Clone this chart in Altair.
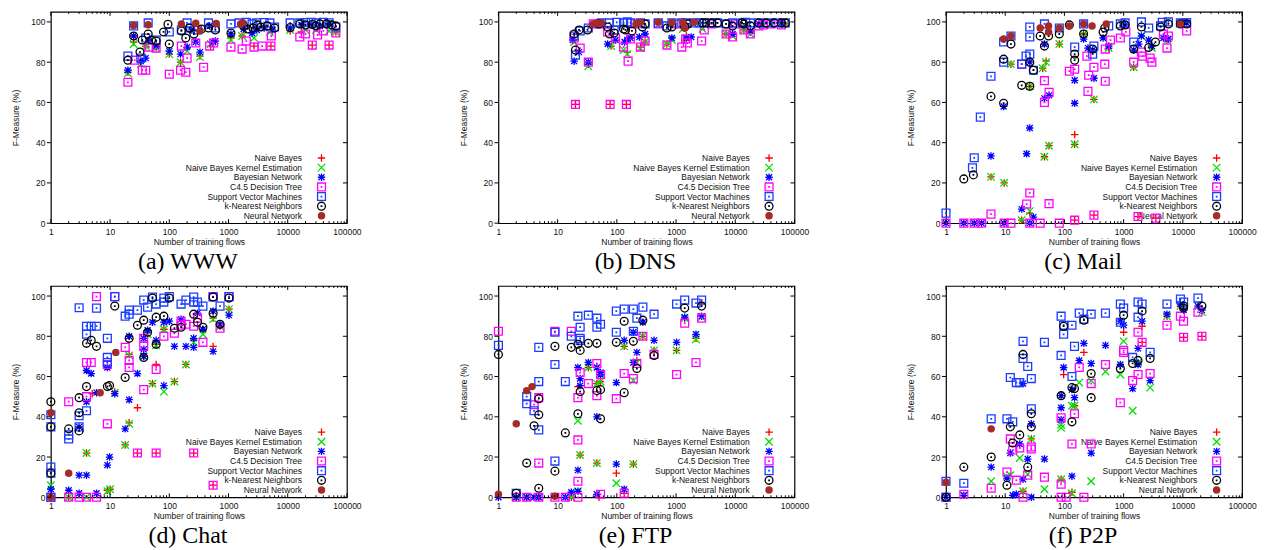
import altair as alt
import pandas as pd

SERIES = ["Naive Bayes", "Naive Bayes Kernel Estimation", "Bayesian Network",
          "C4.5 Decision Tree", "Support Vector Machines", "k-Nearest Neighbors",
          "Neural Network"]
COLORS = ["#ff0000", "#00e000", "#0000ff", "#ff00ff", "#1a3cff", "#000000", "#a52a2a"]
PLUS = "M-1,0L1,0M0,-1L0,1"
CROSS = "M-1,-1L1,1M-1,1L1,-1"
STAR = "M-1,0L1,0M0,-1L0,1M-0.8,-0.8L0.8,0.8M-0.8,0.8L0.8,-0.8"
SQDOT = "M-1,-1L1,-1L1,1L-1,1Z M-0.06,-0.06L0.06,-0.06L0.06,0.06L-0.06,0.06Z"
CIRCDOT = "M-1,0A1,1,0,1,0,1,0A1,1,0,1,0,-1,0Z M-0.06,-0.06L0.06,-0.06L0.06,0.06L-0.06,0.06Z"
SHAPES = [PLUS, CROSS, STAR, SQDOT, SQDOT, CIRCDOT, "circle"]
SIZES = [56, 56, 56, 62, 62, 62, 56]
FILLED = [False, False, False, False, False, False, True]
CAPTIONS = ["(a) WWW", "(b) DNS", "(c) Mail", "(d) Chat", "(e) FTP", "(f) P2P"]
X_LABELS = [1, 10, 100, 1000, 10000, 100000]
Y_LABELS = [0, 20, 40, 60, 80, 100]

# ---------------- (a) WWW ----------------
WWW_NB = [(20,75),(25,90),(33,80),(40,88),(60,87.5),(100,84),(155,80),(200,87),(330,83),(500,88),(1100,92),(1700,93),(2700,88),(5200,88),(11000,95.5),(17000,95),(26000,88.5),(50000,88.5),(65000,95)]
WWW_NBK = [(20,74.5),(25,89),(33,79),(40,88),(60,87),(100,84),(155,80),(200,85.5),(330,82.5),(500,89),(1100,91),(1700,93),(2700,92),(5000,95),(11000,96),(20000,96),(30000,96),(50000,95.5),(65000,95)]
WWW_BN = [(20,76),(25,93),(33,80.5),(40,82),(45,90.5),(60,88),(100,85.5),(155,84),(200,87.5),(240,96),(280,90),(330,85),(480,98),(550,90),(600,90.5),(1100,94),(1800,96.5),(2500,94.5),(3000,96),(4000,97),(5500,96),(11000,97),(17000,98.5),(25000,98.5),(35000,98),(50000,99)]
WWW_C45 = [(20,70),(26,81),(35,76),(40,76),(45,87.5),(60,87),(100,74),(155,76),(160,88),(190,75),(200,82),(280,89.5),(380,77.5),(480,88),(560,89.5),(1100,87.5),(1700,86.5),(2000,90.5),(2700,87.5),(3700,88),(5200,88),(5300,93),(16000,92.5),(20000,94),(26000,88.5),(32000,93.5),(40000,95.5),(50000,88.5),(65000,94.5)]
WWW_SVM = [(20,83),(25,98),(33,82),(40,92),(44,99.5),(60,91),(100,95),(160,96),(200,99.5),(230,97),(300,96),(460,99.5),(600,97),(1100,99),(1500,99.5),(2000,99.8),(2500,99),(3000,99.6),(4000,99.7),(5000,99.5),(6000,97.5),(11000,99.5),(16000,99.5),(20000,99.7),(25000,99.8),(30000,99.5),(40000,99.8),(50000,99.6),(65000,97.5)]
WWW_KNN = [(20,81),(25,93),(32,85),(35,91),(44,94),(50,91),(60,90.5),(80,95),(95,98.8),(100,89),(160,95.5),(190,92),(220,97),(260,94),(350,96.5),(460,97),(600,96),(1100,94.5),(1800,98),(2100,96.5),(2600,97),(3100,98.5),(3500,97.5),(4500,98),(6000,97),(11000,97.2),(16000,99),(20000,98.5),(26000,98.7),(30000,98),(35000,99),(45000,99),(55000,98.5),(65000,98)]
WWW_NN = [(25,98.2),(44,98.6),(160,99),(280,99.3),(330,95.6),(620,99.2),(1600,99),(1750,99.6)]

# ---------------- (b) DNS ----------------
DNS_NB = [(20,59),(33,79),(77,59),(80,88),(145,59),(150,85),(250,87.5),(300,90),(700,89),(1400,91),(1500,93),(7000,94),(9000,94),(14000,96),(18000,95),(30000,99),(70000,99)]
DNS_NBK = [(19,90),(33,78),(80,88),(130,86),(150,84),(250,87),(300,90),(700,89),(850,91),(1300,96.5),(1500,92),(2800,96.5),(7000,94),(9000,93),(14000,96),(18000,94),(30000,98.5),(70000,99)]
DNS_BN = [(18,91),(19,80.5),(23,85),(33,80),(70,89),(95,91),(135,90),(150,91),(170,92),(240,92.5),(300,94),(850,92),(1500,92),(1800,92.5),(9000,94),(18000,95.5),(25000,99),(60000,99.5)]
DNS_C45 = [(19,92),(20,59),(24,87),(33,80),(40,99),(50,99),(70,95),(77,59),(95,92),(130,87.5),(145,59),(155,80.5),(170,91.5),(200,99),(250,87.5),(300,90.5),(500,99),(700,88.5),(1000,99),(1250,87.5),(1450,91.5),(1550,89.5),(2700,90.5),(3000,96),(4000,99),(7000,94),(9000,92.5),(10000,99),(14000,96),(18000,94),(25000,98),(30000,98.5),(40000,99),(60000,98.5)]
DNS_SVM = [(19,93),(20,83.5),(24,95.5),(33,97),(55,99.5),(75,99.5),(90,96),(100,99.8),(130,99.5),(150,100),(170,99.5),(250,99.5),(300,99),(500,99.5),(700,98),(850,99.5),(1250,99.5),(1500,99.5),(2000,99.5),(2500,99.5),(3000,99.5),(4000,99.5),(5000,99.5),(7000,99),(9000,99.5),(13000,99.5),(15000,99.8),(18000,99.5),(25000,99.5),(35000,99.5),(50000,99.5),(70000,99.5)]
DNS_KNN = [(19,94),(20,86),(23,96),(32,96),(50,99),(70,97.5),(75,94),(90,94.5),(130,96.5),(140,96),(180,95.5),(270,97.5),(300,99),(700,97),(850,97.5),(1400,97.5),(1600,99),(2800,99.5),(3200,99.5),(4000,99.5),(5000,99.5),(7000,99),(9000,98),(13000,99.5),(14000,99),(18000,98),(25000,99.5),(33000,99.5),(45000,99.5),(60000,99.5),(70000,99.5)]
DNS_NN = [(40,99),(47,99.5),(55,99.5),(210,99),(230,99.5),(250,99.8),(500,99.8),(850,99.7),(1300,99.8),(1400,97),(2000,99.8)]

# ---------------- (c) Mail ----------------
MAIL_NB = [(5.75,23),(9.6,20),(12.5,79),(19,1.5),(26,68),(26,5),(43,77),(46,33),(49,80.5),(55,38.5),(82,89),(149,44),(149,39.2),(149,1.5),(211,94),(315,61.5),(315,4),(560,87),(1480,77.5),(1750,3.3),(3500,2.5),(5400,91)]
MAIL_NBK = [(5.75,23),(9.6,20),(12.5,79),(19,1.5),(26,68),(26,6),(43,77),(46,33),(49,80),(55,38.5),(82,89),(149,39.2),(211,94),(315,61.5),(560,87),(1480,77.5),(2000,93),(3000,87),(5400,91)]
MAIL_BN = [(1,0),(2,0),(3,0),(4,0),(5.75,33.4),(9.6,0),(9.4,58),(19,7),(23,34.5),(26,47.3),(26,80),(26,0),(30,3),(46,62),(46,89),(55,63.5),(149,71),(149,59.6),(211,91.5),(250,87),(300,86),(315,72),(450,92),(560,88),(1060,98.5),(1480,86),(1800,89),(2000,93),(2650,91),(3000,88),(4700,92),(5700,91.5),(9100,99),(11600,99.5)]
MAIL_C45 = [(1,0),(2,0),(3,0),(4,0),(5.75,4.5),(9.6,0),(12.5,0),(19,79),(23,9.5),(26,15),(26,0),(39,0),(46,70.8),(46,60),(55,65),(55,9.7),(82,0),(121,75.5),(149,76.5),(149,1.5),(240,83),(250,65.5),(257,73.5),(315,77.5),(315,4),(480,79),(490,86.5),(490,70.5),(600,91),(880,92),(1090,95),(1480,80),(2000,85),(2100,83),(2800,82),(3000,80),(1750,3.3),(3500,2.5),(4700,94),(5400,87),(5700,93),(11600,95.5)]
MAIL_SVM = [(1,5),(2.8,27.5),(3,32.5),(3.8,52.7),(5.75,73),(9.4,90),(9.4,80),(12.5,93),(19,79),(22.5,83),(26,97.5),(26,92.5),(26,84),(30,76),(46,99),(82,97),(149,87.5),(211,99),(300,84),(315,88),(560,98),(880,99),(1060,99.5),(1480,90),(2000,100),(2650,97),(4200,98),(4500,99.8),(5700,100),(9100,99.5),(11600,99.7)]
MAIL_KNN = [(2,22),(2.9,24),(5.75,63),(9.4,81.5),(9.4,59.6),(12.5,89),(19,68.5),(26,80),(26,68),(30,76),(39,93),(46,88),(54,93),(82,94),(121,98.5),(149,84),(149,81),(211,94),(300,86.5),(450,95),(480,97),(880,98),(1060,98.5),(1480,86.5),(2000,97.5),(2650,87.3),(3450,90),(4200,97.5),(5700,99),(9100,99),(11600,99)]
MAIL_NN = [(9.4,91.5),(12.5,93),(39,97),(54,98),(54,95),(82,97),(121,98),(211,99),(293,98),(510,99),(9100,99)]

# ---------------- (d) Chat ----------------
CHAT_NB = [(1,0),(2,0),(4,22),(5,51.5),(9,3.5),(10,4),(12,52.5),(18,26),(21,71),(21,37),(29,44.5),(29,22),(37,70),(52,56.5),(60,76),(60,66),(60,22),(81,83.5),(122,57.5),(191,66),(258,78),(258,22),(550,89),(550,75),(550,6),(720,85),(1020,93.5)]
CHAT_NBK = [(1,6),(2,0),(4,22),(4,0),(9,3),(10,4),(12,52),(18,26),(21,70.5),(21,36.5),(37,70),(43,81),(52,56.5),(60,75.5),(81,83.5),(81,52.5),(122,57.5),(191,66),(258,77),(370,81),(550,88.5),(720,85),(1020,93.5)]
CHAT_BN = [(1,4),(2,3.5),(3,35),(3,11),(3,2),(4,63),(4,47.5),(4,11),(4.8,61.5),(5.9,52),(5.9,2),(9,64.5),(9,16),(9.8,20),(12,51.5),(18,34),(21,80),(21,48.5),(29,61.5),(37,79),(37,73.5),(37,70),(43,83),(52,87),(60,78),(81,87),(81,55.5),(100,87.5),(122,75),(158,88.5),(191,75),(258,79),(258,74.5),(300,91.5),(370,83.5),(550,92.5),(550,72.5),(720,86),(1020,90.5)]
CHAT_C45 = [(1,0),(2,47.5),(2,0),(3,0),(4,67),(4,50),(4,0),(4.8,67),(5.9,99.7),(5.9,0),(9,66),(9,36.5),(12,99.7),(18,74.5),(21,68),(21,64.5),(29,22),(37,79),(37,75),(37,53.5),(60,63.5),(60,22),(81,80),(122,81.5),(158,87.5),(158,85.5),(191,86),(258,85),(258,22),(300,89),(370,77),(550,99.7),(550,6),(720,84),(1020,99.7)]
CHAT_SVM = [(1,41),(1,35),(1,15),(1,12),(1,0),(2,31),(2,29),(3,94.2),(3,40.5),(3,35),(4,85),(4,81),(4,43),(4.8,85),(5.9,94),(5.9,85),(9,79),(9,69.5),(9,67),(12,99.7),(18,90),(21,93),(21,91),(29,93),(37,98),(43,94.5),(52,99.5),(60,96),(81,99),(81,97),(100,99.7),(158,96),(191,98),(258,99.5),(258,97),(300,97),(370,95),(550,99.5),(720,95),(1020,99.7)]
CHAT_KNN = [(1,47.5),(1,35),(1,12),(2,34),(3,49.5),(3,42),(3,33),(4,76.5),(4,55),(4.8,78),(5.9,75),(9,55),(9.8,55.5),(12,95),(18,59.5),(21,79),(29,85.5),(37,88),(37,69.5),(43,82),(52,99),(60,89.5),(60,76),(81,90),(100,99),(122,84),(158,84.5),(258,91),(300,87),(370,84.5),(550,99.5),(550,91.5),(720,86),(1020,99)]
CHAT_NN = [(1,42),(1,0),(2,12),(6.8,52),(12.5,72)]

# ---------------- (e) FTP ----------------
FTP_NB = [(2,0),(3,0),(4.8,0),(17,0),(22,55),(24,21),(33,64.5),(46,56.5),(46,17),(50,0),(53,57.5),(98,12),(133,75),(133,2),(190,16.5),(218,68),(275,80),(425,73),(1020,73),(1400,89),(2170,79),(2700,96.5)]
FTP_NBK = [(2,0),(3,0),(17,0),(22,38),(22,3),(24,21),(33,64.5),(46,56.5),(46,17),(53,57.5),(98,7),(133,75),(190,58),(190,16.5),(218,67),(275,80),(425,73),(1020,73),(1400,89),(2170,78.5),(2700,89.5)]
FTP_BN = [(1,0),(2,0),(3,0),(4,0),(4.8,0),(13.5,0),(17,2.5),(22,64.5),(22,13.5),(22,3),(24,59),(24,55.5),(33,67),(46,64.5),(46,40),(46,1.5),(53,61),(53,62),(98,57),(98,16.5),(133,78),(133,4),(190,82),(190,67),(218,72),(275,87),(425,78),(1020,77),(1400,89.5),(2170,81),(2700,90)]
FTP_C45 = [(1,82.5),(2,0),(3,0),(4,46),(4.8,49.5),(4.8,17),(4.8,0),(9,82.5),(9,0),(13.5,0),(17,82.5),(22,49.5),(22,28.5),(22,8),(22,0),(24,62),(33,56.5),(46,66.5),(46,50.5),(53,61),(53,1.5),(98,49),(133,61.5),(133,2),(190,59),(218,66.5),(275,80),(425,71),(1020,61),(1400,86.5),(2170,67),(2700,89)]
FTP_SVM = [(1,75.5),(2,2),(3,50),(3,46.5),(4,43),(4.8,74.5),(4.8,57.5),(4.8,33.5),(9,82),(9,66),(9,18),(13.5,57.5),(17,80),(22,90),(24,84.5),(24,79),(24,78),(33,90.5),(46,89),(46,84.5),(53,86),(98,92.5),(98,82),(133,93.5),(190,93.5),(190,82.5),(218,89),(275,94.5),(425,91),(1020,96),(1400,98),(2170,96.5),(2700,98)]
FTP_KNN = [(1,71),(2,2),(3,17),(4,35.5),(4.8,49),(4.8,41),(4.8,4.5),(9,75),(9,13),(13.5,32),(17,74.5),(22,76),(22,41.5),(24,73),(24,52.5),(33,76.5),(46,76.5),(46,53),(53,53.5),(53,39),(98,77),(133,87.5),(133,52),(190,77.5),(218,64),(275,88),(425,70.5),(1400,94),(2700,95)]
FTP_NN = [(1,1.5),(2,36.5),(3,53),(3.7,55),(9,0.5)]

# ---------------- (f) P2P ----------------
P2P_NB = [(20,3),(27.6,29),(88,9),(97,61),(134,2.5),(148,45.5),(213,72),(1000,82),(2050,85),(2050,77),(5400,90),(9100,95),(10300,79.5),(21000,80)]
P2P_NBK = [(2,1),(5.8,8),(10.7,10.5),(12.2,11),(17.6,19.5),(20,3),(24,11.5),(27.6,29),(46,4),(88,36),(88,34.5),(88,9),(134,45.5),(134,2),(148,45.5),(178,57),(283,58),(283,8),(494,62.5),(880,61),(1000,77.5),(1420,43),(1750,67),(2800,54.5),(5400,90),(9100,95),(18000,95),(21000,92)]
P2P_BN = [(1,0),(2,1),(5.8,15),(10.7,9.5),(12.2,22),(13.4,1),(15.4,1.5),(17.6,26.5),(20,56.5),(20,9),(24,19),(27.6,36.5),(27.6,0),(46,19),(88,50.5),(88,44.5),(88,38.5),(97,64.5),(134,53.5),(134,10.5),(148,49.5),(178,68),(213,76.5),(283,66.5),(283,22),(494,75.5),(880,87.5),(880,66),(1000,85.5),(1420,54),(1750,74),(1750,66),(2050,87.5),(2800,58),(5400,91),(9100,96),(10300,93),(18000,95),(21000,93)]
P2P_C45 = [(1,0),(2,1.5),(5.8,4.5),(10.7,12.5),(12.2,29),(13.4,23.5),(15.4,8.5),(17.6,24.5),(20,0),(24,11),(27.6,25),(27.6,24),(46,10),(88,39.5),(88,6.5),(88,0),(107,0),(134,26.5),(148,41.5),(178,64.5),(213,0),(283,56.5),(283,26.5),(494,66),(880,47),(1000,73),(1000,72),(1420,58),(1750,82),(1750,61),(2050,77),(2800,61.5),(5400,85.5),(9100,90),(10300,87.5),(10300,79.5),(18000,92),(21000,80)]
P2P_SVM = [(1,8),(1,0),(2,7),(5.8,39),(10.7,39),(12.2,59.5),(13.4,37.5),(15.4,57),(17.6,57),(20,77.5),(20,69),(24,65),(27.6,59),(27.6,44),(46,77),(88,90),(88,70.5),(97,81),(97,85.5),(134,85.5),(134,60),(148,75),(178,91.5),(213,88.5),(283,91),(494,91.5),(880,96),(880,87),(1000,94),(1420,69.5),(1750,97),(1750,89.5),(2050,96),(2800,72),(5400,96),(9100,98.5),(10300,97),(18000,99)]
P2P_KNN = [(1,0),(2,15),(5.8,20),(10.7,6),(12.2,35),(13.4,27),(17.6,31),(20,71),(24,15),(27.6,41.5),(27.6,35),(88,50.5),(97,85),(134,54.5),(134,37.5),(148,54),(213,88),(283,61.5),(283,49.5),(880,64),(1000,90.5),(1420,66.5),(1750,68),(2050,92.5),(2800,69),(10300,95),(10300,94),(21000,95)]
P2P_NN = [(1,7.5),(5.8,34)]

PANELS = [
    [WWW_NB, WWW_NBK, WWW_BN, WWW_C45, WWW_SVM, WWW_KNN, WWW_NN],
    [DNS_NB, DNS_NBK, DNS_BN, DNS_C45, DNS_SVM, DNS_KNN, DNS_NN],
    [MAIL_NB, MAIL_NBK, MAIL_BN, MAIL_C45, MAIL_SVM, MAIL_KNN, MAIL_NN],
    [CHAT_NB, CHAT_NBK, CHAT_BN, CHAT_C45, CHAT_SVM, CHAT_KNN, CHAT_NN],
    [FTP_NB, FTP_NBK, FTP_BN, FTP_C45, FTP_SVM, FTP_KNN, FTP_NN],
    [P2P_NB, P2P_NBK, P2P_BN, P2P_C45, P2P_SVM, P2P_KNN, P2P_NN],
]

W, H = 297, 212
YMAX = 105
SANS = "Liberation Sans"
SERIF = "Liberation Serif"
LEG_TOP, LEG_STEP = 146.6, 9.67

XSCALE = alt.Scale(type="log", domain=[1, 100000], nice=False)
YSCALE = alt.Scale(domain=[0, YMAX], nice=False, zero=False)
XAXIS = alt.Axis(values=X_LABELS, format="d", title="Number of training flows",
                 ticks=False, tickSize=0, domain=False, grid=False,
                 labelPadding=4, titlePadding=2, labelFlush=False)
YAXIS = alt.Axis(values=Y_LABELS, title="F-Measure (%)", ticks=False, tickSize=0,
                 domain=False, grid=False, labelPadding=6, titlePadding=10)


def style(i):
    return dict(shape=SHAPES[i], color=COLORS[i], filled=FILLED[i], size=SIZES[i],
                strokeWidth=1.3, opacity=1)


def panel(lists, caption):
    X = alt.X("x:Q", scale=XSCALE, axis=XAXIS)
    Y = alt.Y("y:Q", scale=YSCALE, axis=YAXIS)
    layers = []
    leg = pd.DataFrame({"name": SERIES,
                        "y": [YMAX * (1 - (LEG_TOP + i * LEG_STEP) / H) for i in range(len(SERIES))]})
    layers.append(alt.Chart(leg).mark_text(align="right", baseline="middle", font=SANS,
                                           fontSize=8.5, color="#111")
                  .encode(x=alt.value(W - 45), y=Y, text="name:N"))
    for i in range(len(SERIES)):
        layers.append(alt.Chart(leg.iloc[[i]]).mark_point(**style(i))
                      .encode(x=alt.value(W - 25.5), y=Y))
    for i, pts in enumerate(lists):
        df = pd.DataFrame(pts, columns=["x", "y"])
        layers.append(alt.Chart(df).mark_point(**style(i)).encode(x=X, y=Y))
    xmaj = pd.DataFrame({"x": X_LABELS})
    xmin = pd.DataFrame({"x": [m * 10 ** k for k in range(5) for m in range(2, 10)]})
    yt = pd.DataFrame({"y": Y_LABELS})
    rule = dict(color="black", strokeWidth=1)
    layers += [
        alt.Chart(xmaj).mark_rule(**rule).encode(x=X, y=alt.value(H), y2=alt.value(H - 4)),
        alt.Chart(xmaj).mark_rule(**rule).encode(x=X, y=alt.value(0), y2=alt.value(4)),
        alt.Chart(xmin).mark_rule(**rule).encode(x=X, y=alt.value(H), y2=alt.value(H - 2)),
        alt.Chart(xmin).mark_rule(**rule).encode(x=X, y=alt.value(0), y2=alt.value(2)),
        alt.Chart(yt).mark_rule(**rule).encode(y=Y, x=alt.value(-4), x2=alt.value(0)),
        alt.Chart(yt).mark_rule(**rule).encode(y=Y, x=alt.value(W - 4), x2=alt.value(W)),
    ]
    return alt.layer(*layers).properties(
        width=W, height=H,
        title=alt.TitleParams(caption, orient="bottom", font=SERIF, fontSize=24,
                              fontWeight="normal", color="black", offset=4, dx=-11))


charts = [panel(l, c) for l, c in zip(PANELS, CAPTIONS)]
chart = alt.concat(*charts, columns=3, spacing={"row": 63, "column": 152},
                   bounds="flush").properties(
    padding={"left": 3, "top": 1, "right": 0, "bottom": 0}
).configure_view(stroke="black", strokeWidth=1.2).configure_axis(
    labelFont=SANS, titleFont=SANS, labelFontSize=8.5, titleFontSize=8.5,
    labelColor="#111", titleColor="#111", titleFontWeight="normal")

chart.save("out.html", embed_options={"renderer": "svg", "actions": False})
